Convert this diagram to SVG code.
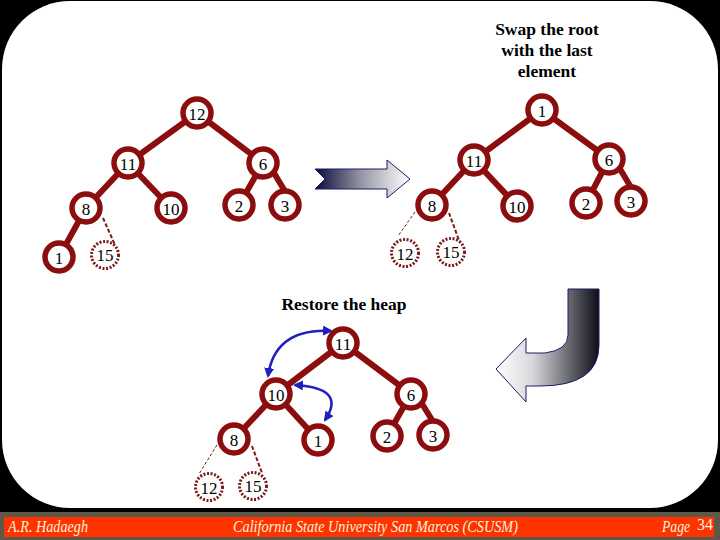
<svg xmlns="http://www.w3.org/2000/svg" width="720" height="540" viewBox="0 0 720 540">
<defs>
<style>
.node{fill:#fff;stroke:#8b0d0d;stroke-width:5.5}
.ghost{fill:#fff;stroke:#7a1a1a;stroke-width:3;stroke-dasharray:2 1.6}
.lbl{font-family:"Liberation Serif","Times New Roman",serif;font-size:17px;fill:#000;text-anchor:middle;dominant-baseline:central}
.edge{stroke:#8b0d0d;stroke-width:6;stroke-linecap:round;fill:none}
.dthin{stroke:#7a1a1a;stroke-width:1;stroke-dasharray:3 2;fill:none}
.dthick{stroke:#7a1a1a;stroke-width:2;stroke-dasharray:4 2;fill:none}
.title{font-family:"Liberation Serif","Times New Roman",serif;font-weight:bold;font-size:17.5px;fill:#000;text-anchor:middle}
.foot{font-family:"Liberation Serif","Times New Roman",serif;font-style:italic;font-size:16px;fill:#fff2d8}
.blue{stroke:#1f1fbf;stroke-width:2.5;fill:none}
</style>
<marker id="ah" viewBox="0 0 10 10" refX="8" refY="5" markerWidth="4" markerHeight="4" orient="auto-start-reverse"><path d="M0,0 L10,5 L0,10 z" fill="#1f1fbf"/></marker>
<linearGradient id="g1" x1="0" y1="0" x2="1" y2="0"><stop offset="0" stop-color="#0a0a3a"/><stop offset="0.5" stop-color="#9a9aa6"/><stop offset="1" stop-color="#ffffff"/></linearGradient>
<linearGradient id="g2" x1="496" y1="0" x2="600" y2="0" gradientUnits="userSpaceOnUse"><stop offset="0" stop-color="#ffffff"/><stop offset="0.35" stop-color="#d8d8dc"/><stop offset="1" stop-color="#0a0a14"/></linearGradient>
</defs>
<rect width="720" height="540" fill="#000"/>
<rect x="2" y="1" width="716" height="507" rx="68" ry="68" fill="#fff"/>
<rect x="0" y="512" width="720" height="28" fill="#5e5849"/>
<rect x="4" y="517" width="710" height="20" fill="#ff3300"/>
<g id="footer">
<text class="foot" x="8" y="532" textLength="80" lengthAdjust="spacingAndGlyphs">A.R. Hadaegh</text>
<text class="foot" x="233" y="532" textLength="285" lengthAdjust="spacingAndGlyphs">California State University San Marcos (CSUSM)</text>
<text class="foot" x="662" y="532" textLength="28" lengthAdjust="spacingAndGlyphs">Page</text>
<text class="foot" x="697" y="530" style="font-style:normal">34</text>
</g>
<g id="titles">
<text class="title" x="547" y="35">Swap the root</text>
<text class="title" x="547" y="56">with the last</text>
<text class="title" x="547" y="77">element</text>
<text class="title" x="344" y="310">Restore the heap</text>
</g>
<g id="arrow-right"><path d="M315,169 L387,169 L387,160 L410,179 L387,198 L387,189 L315,189 L325,179 z" fill="url(#g1)" stroke="#1a1a6a" stroke-width="1"/></g>
<g id="arrow-curved"><path d="M568,289 L599,289 L599,345 Q599,386 540,386 L526,386 L526,402 L496,369 L526,338 L526,353 L545,353 Q568,350 568,335 z" fill="url(#g2)" stroke="#1a1a6a" stroke-width="1"/></g>
<g id="connectors">
<line class="edge" x1="197" y1="113" x2="128" y2="163"/>
<line class="edge" x1="197" y1="113" x2="263" y2="163"/>
<line class="edge" x1="128" y1="163" x2="86" y2="208"/>
<line class="edge" x1="128" y1="163" x2="171" y2="208"/>
<line class="edge" x1="263" y1="163" x2="239" y2="205"/>
<line class="edge" x1="268" y1="163" x2="292" y2="203"/>
<line class="edge" x1="86" y1="208" x2="59" y2="257"/>
<line class="dthick" x1="103" y1="218" x2="115" y2="245"/>
<line class="edge" x1="542" y1="110" x2="474" y2="160"/>
<line class="edge" x1="542" y1="110" x2="609" y2="159"/>
<line class="edge" x1="474" y1="160" x2="432" y2="205"/>
<line class="edge" x1="474" y1="160" x2="517" y2="206"/>
<line class="edge" x1="609" y1="159" x2="586" y2="203"/>
<line class="edge" x1="614" y1="159" x2="638" y2="199"/>
<line class="dthin" x1="415" y1="212" x2="398" y2="236"/>
<line class="dthick" x1="449" y1="213" x2="460" y2="243"/>
<line class="edge" x1="343" y1="343" x2="276" y2="394"/>
<line class="edge" x1="343" y1="343" x2="411" y2="394"/>
<line class="edge" x1="276" y1="394" x2="234" y2="439"/>
<line class="edge" x1="276" y1="394" x2="318" y2="440"/>
<line class="edge" x1="411" y1="394" x2="387" y2="436"/>
<line class="edge" x1="416" y1="394" x2="440" y2="433"/>
<line class="dthin" x1="217" y1="445" x2="199" y2="474"/>
<line class="dthick" x1="252" y1="446" x2="262" y2="473"/>
<path class="blue" d="M331,331 Q275,328 268,376" marker-start="url(#ah)" marker-end="url(#ah)"/>
<path class="blue" d="M295,385 Q347,388 325,420" marker-start="url(#ah)" marker-end="url(#ah)"/>
</g>
<g id="n-l12"><circle class="node" cx="197" cy="113" r="14"/><text class="lbl" x="197" y="114">12</text></g>
<g id="n-l11"><circle class="node" cx="128" cy="163" r="14"/><text class="lbl" x="128" y="164">11</text></g>
<g id="n-l6"><circle class="node" cx="263" cy="163" r="14"/><text class="lbl" x="263" y="164">6</text></g>
<g id="n-l8"><circle class="node" cx="86" cy="208" r="14"/><text class="lbl" x="86" y="209">8</text></g>
<g id="n-l10"><circle class="node" cx="171" cy="208" r="14"/><text class="lbl" x="171" y="209">10</text></g>
<g id="n-l2"><circle class="node" cx="239" cy="205" r="14"/><text class="lbl" x="239" y="206">2</text></g>
<g id="n-l3"><circle class="node" cx="285" cy="205" r="14"/><text class="lbl" x="285" y="206">3</text></g>
<g id="n-l1"><circle class="node" cx="59" cy="257" r="14"/><text class="lbl" x="59" y="258">1</text></g>
<g id="n-l15"><circle class="ghost" cx="105" cy="255" r="13.5"/><text class="lbl" x="105" y="255">15</text></g>
<g id="n-r1"><circle class="node" cx="542" cy="110" r="14"/><text class="lbl" x="542" y="111">1</text></g>
<g id="n-r11"><circle class="node" cx="474" cy="160" r="14"/><text class="lbl" x="474" y="161">11</text></g>
<g id="n-r6"><circle class="node" cx="609" cy="159" r="14"/><text class="lbl" x="609" y="160">6</text></g>
<g id="n-r8"><circle class="node" cx="432" cy="205" r="14"/><text class="lbl" x="432" y="206">8</text></g>
<g id="n-r10"><circle class="node" cx="517" cy="206" r="14"/><text class="lbl" x="517" y="207">10</text></g>
<g id="n-r2"><circle class="node" cx="586" cy="203" r="14"/><text class="lbl" x="586" y="204">2</text></g>
<g id="n-r3"><circle class="node" cx="631" cy="201" r="14"/><text class="lbl" x="631" y="202">3</text></g>
<g id="n-r12"><circle class="ghost" cx="405" cy="253" r="13.5"/><text class="lbl" x="405" y="254">12</text></g>
<g id="n-r15"><circle class="ghost" cx="451" cy="252" r="13.5"/><text class="lbl" x="451" y="252">15</text></g>
<g id="n-b11"><circle class="node" cx="343" cy="343" r="14"/><text class="lbl" x="343" y="344">11</text></g>
<g id="n-b10"><circle class="node" cx="276" cy="394" r="14"/><text class="lbl" x="276" y="395">10</text></g>
<g id="n-b6"><circle class="node" cx="411" cy="394" r="14"/><text class="lbl" x="411" y="395">6</text></g>
<g id="n-b8"><circle class="node" cx="234" cy="439" r="14"/><text class="lbl" x="234" y="440">8</text></g>
<g id="n-b1"><circle class="node" cx="318" cy="440" r="14"/><text class="lbl" x="318" y="441">1</text></g>
<g id="n-b2"><circle class="node" cx="387" cy="436" r="14"/><text class="lbl" x="387" y="437">2</text></g>
<g id="n-b3"><circle class="node" cx="433" cy="435" r="14"/><text class="lbl" x="433" y="436">3</text></g>
<g id="n-b12"><circle class="ghost" cx="209" cy="487" r="13.5"/><text class="lbl" x="209" y="488">12</text></g>
<g id="n-b15"><circle class="ghost" cx="253" cy="486" r="13.5"/><text class="lbl" x="253" y="486">15</text></g>
</svg>
